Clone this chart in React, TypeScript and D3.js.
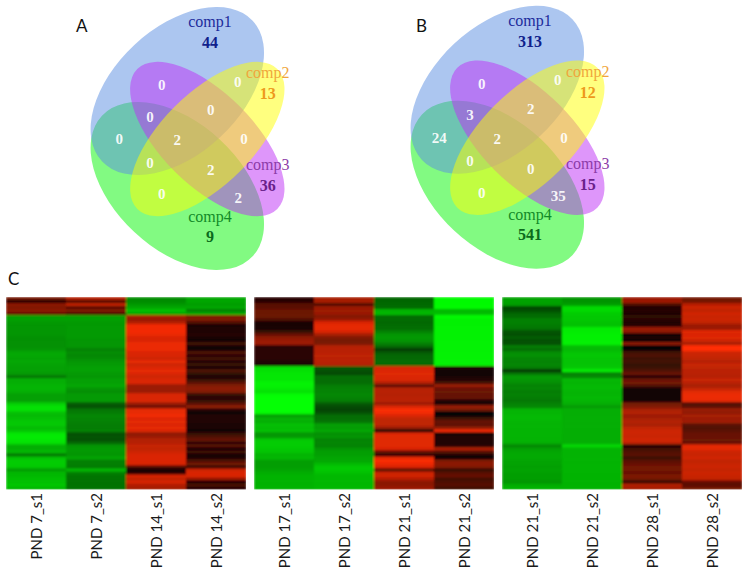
import React from 'react';
import * as d3 from 'd3';

// venn counts, in the order of the regions below
const vennRegions = ['c1c3', 'c1c2', 'c1c2c3', 'c1c3c4', 'c1c4', 'all', 'c2c3', 'c2c4', 'c2c3c4', 'c3c4yellow', 'c3c4'];
const countsA = [0, 0, 0, 0, 0, 2, 0, 0, 2, 0, 2];
const countsB = [0, 0, 2, 3, 24, 2, 0, 0, 0, 0, 35];
const soloA = [44, 13, 36, 9];
const soloB = [313, 12, 15, 541];
const compNames = ['comp1', 'comp2', 'comp3', 'comp4'];

const labels1 = ['PND 7_s1', 'PND 7_s2', 'PND 14_s1', 'PND 14_s2'];
const labels2 = ['PND 17_s1', 'PND 17_s2', 'PND 21_s1', 'PND 21_s2'];
const labels3 = ['PND 21_s1', 'PND 21_s2', 'PND 28_s1', 'PND 28_s2'];

// heatmap rows, green (negative) to red (positive)
const p1c1 = [45, 10, 55, 50, 55, 40, -62, -62, -60, -58, -58, -58, -58, -56, -56, -56, -56, -58, -65, -65, -63, -65, -63, -62, -62, -60, -45, -68, -68, -70, -70, -68, -62, -62, -62, -80, -88, -88, -75, -72, -75, -78, -78, -72, -78, -90, -92, -90, -88, -68, -68, -72, -45, -75, -80, -80, -78, -60, -72, -72, -75, -75, -78, -72];
const p1c2 = [70, 30, 75, 35, 50, 30, -62, -62, -60, -60, -60, -60, -60, -60, -58, -58, -58, -50, -55, -52, -55, -58, -60, -62, -62, -60, -58, -62, -62, -65, -58, -55, -60, -60, -60, -35, -30, -45, -48, -52, -50, -50, -48, -48, -50, -30, -32, -30, -40, -58, -60, -60, -58, -65, -50, -50, -48, -72, -50, -45, -45, -45, -45, -45];
const p1c3 = [-55, -55, -60, -65, -75, -65, 65, 60, 70, 95, 95, 95, 92, 85, 85, 92, 92, 92, 85, 85, 80, 90, 80, 85, 90, 85, 80, 85, 85, 60, 60, 60, 85, 85, 85, 60, 40, 90, 90, 95, 85, 90, 85, 90, 85, 55, 60, 70, 70, 78, 75, 80, 85, 85, 85, 85, 30, 5, 15, 85, 75, 85, 70, 65];
const p1c4 = [-65, -65, -62, -65, -50, -65, 50, 50, 30, 8, 12, 10, 15, 8, 5, 25, 5, 3, 30, 15, 25, 12, 22, 5, 30, 18, 8, 18, 35, 50, 55, 50, 18, 15, 18, 35, 55, 15, 5, 10, 12, 10, 8, 8, 5, 20, 30, 40, 15, 35, 8, 25, 5, 12, 30, 45, 20, 80, 85, 85, 60, 10, 30, 15];

const p2c1 = [15, 15, 35, 35, 42, 42, 42, 30, 7, 7, 7, 20, 40, 55, 60, 60, 15, 15, 15, 15, 15, 10, 8, -88, -88, -90, -90, -90, -95, -95, -92, -88, -98, -100, -100, -100, -100, -100, -98, -60, -70, -68, -75, -72, -75, -58, -60, -78, -80, -80, -78, -76, -70, -72, -62, -62, -62, -64, -68, -70, -70, -70, -70, -70];
const p2c2 = [65, 65, 30, 60, 62, 60, 50, 60, 85, 90, 90, 85, 65, 50, 45, 48, 70, 72, 72, 75, 72, 72, 70, -35, -30, -28, -42, -42, -42, -48, -50, -50, -52, -50, -48, -35, -28, -25, -30, -42, -42, -45, -62, -60, -65, -55, -58, -50, -52, -50, -58, -62, -62, -65, -65, -72, -78, -78, -75, -72, -72, -72, -72, -72];
const p2c3 = [-40, -40, -42, -42, -70, -72, -42, -42, -40, -42, -42, -50, -58, -60, -58, -50, -40, -22, -35, -40, -40, -42, -40, 85, 85, 88, 85, 85, 70, 35, 70, 72, 70, 72, 72, 60, 85, 98, 95, 85, 75, 75, 75, 60, 5, 88, 88, 88, 88, 88, 85, 40, 15, 90, 98, 92, 85, 30, 80, 82, 70, 55, 55, 60];
const p2c4 = [-98, -98, -98, -98, -72, -75, -98, -95, -95, -95, -95, -95, -95, -95, -95, -95, -95, -95, -95, -95, -95, -95, -95, 10, 5, 5, 8, 12, 25, 60, 40, 42, 38, 40, 12, 8, 60, 45, 1, 1, 25, 40, 35, 55, 95, 3, 10, 12, 10, 15, 70, 35, 10, 2, 50, 55, 50, 18, 35, 40, 25, 30, 35, 25];

const p3c1 = [-64, -64, -62, -28, -30, -40, -42, -50, -50, -48, -45, -32, -30, -36, -30, -30, -48, -42, -55, -56, -52, -50, -52, -48, -20, -45, -60, -58, -55, -50, -52, -48, -50, -48, -46, -50, -52, -70, -70, -72, -72, -70, -70, -70, -70, -70, -70, -70, -68, -52, -62, -65, -66, -66, -64, -64, -62, -64, -62, -62, -62, -58, -68, -70];
const p3c2 = [-58, -58, -62, -85, -85, -80, -78, -78, -76, -76, -92, -92, -94, -94, -94, -94, -74, -72, -76, -78, -76, -76, -76, -78, -92, -50, -52, -72, -70, -72, -72, -70, -70, -72, -70, -68, -60, -68, -68, -68, -68, -68, -68, -68, -68, -68, -68, -68, -68, -85, -70, -70, -70, -70, -70, -70, -70, -70, -70, -70, -70, -70, -70, -70];
const p3c3 = [60, 62, 30, 12, 15, 12, 18, 15, 12, 15, 60, 55, 5, 8, 5, 55, 2, 1, 25, 30, 22, 25, 20, 22, 30, 40, 10, 40, 45, 30, 5, 4, 3, 3, 5, 45, 50, 65, 70, 60, 65, 70, 65, 75, 80, 80, 78, 82, 75, 8, 25, 30, 35, 22, 35, 40, 45, 45, 40, 50, 45, 20, 70, 65];
const p3c4 = [45, 45, 72, 80, 75, 82, 78, 80, 75, 60, 60, 88, 85, 88, 80, 65, 100, 100, 80, 78, 75, 70, 78, 75, 72, 72, 70, 78, 72, 65, 75, 88, 92, 92, 90, 30, 35, 60, 55, 65, 60, 62, 35, 30, 35, 40, 40, 42, 38, 90, 88, 80, 78, 82, 75, 78, 80, 76, 80, 78, 76, 40, 35, 45];

const width = 747;
const height = 575;
const serif = '"Liberation Serif", serif';
const sans = 'Lato, sans-serif';

const color = d3.scaleLinear<string>().domain([-100, 0, 100]).range(['#00ff00', '#000000', '#ff2a00']);

// centre of each venn region, relative to the panel
const regionPos = [
  [101.7, 85], [177.7, 81.7], [150.7, 110], [90, 116.7], [59.3, 139.3], [117.3, 140], [184, 139.3], [90, 162.7], [150.7, 170], [101.7, 194.3], [178.3, 197.7],
];
const soloPos = [
  { x: 150, y: 27, vy: 48, fill: '#1c2c9c', num: '#101f8c' },
  { x: 207.7, y: 78, vy: 99, fill: '#f0a63c', num: '#ee9a1c' },
  { x: 207.7, y: 170, vy: 191, fill: '#8c3ca8', num: '#6a1f8a' },
  { x: 150, y: 221.7, vy: 241.7, fill: '#128a28', num: '#0b6a1c' },
];

function Venn({ x, y, counts, solo }: { x: number; y: number; counts: number[]; solo: number[] }) {
  const big = { rx: 103, ry: 63 };
  const thin = { rx: 99, ry: 46 };
  return (
    <g transform={`translate(${x},${y})`}>
      <ellipse cx={0} cy={0} {...big} fill="rgb(5,245,5)" fillOpacity={0.5} transform="translate(117.3,186) rotate(43)" />
      <ellipse cx={0} cy={0} {...big} fill="rgb(89,141,225)" fillOpacity={0.5} transform="translate(117.3,91) rotate(-43)" />
      <ellipse cx={0} cy={0} {...thin} fill="rgb(189,45,245)" fillOpacity={0.5} transform="translate(147.3,139) rotate(45)" />
      <ellipse cx={0} cy={0} {...thin} fill="rgb(255,255,0)" fillOpacity={0.5} transform="translate(147.3,139) rotate(-45)" />
      {vennRegions.map((r, i) => (
        <text key={r} x={regionPos[i][0]} y={regionPos[i][1]} dy="0.34em" textAnchor="middle" fill="#fff" fillOpacity={0.92} fontFamily={serif} fontWeight="bold" fontSize={15}>
          {counts[i]}
        </text>
      ))}
      {compNames.map((name, i) => (
        <g key={name} fontFamily={serif} textAnchor="middle" fontSize={16}>
          <text x={soloPos[i].x} y={soloPos[i].y} fill={soloPos[i].fill}>{name}</text>
          <text x={soloPos[i].x} y={soloPos[i].vy} fill={soloPos[i].num} fontWeight="bold">{solo[i]}</text>
        </g>
      ))}
    </g>
  );
}

function Heatmap({ x0, columns, labels }: { x0: number; columns: number[][]; labels: string[] }) {
  const x = d3.scaleBand<number>().domain(d3.range(columns.length)).range([x0, x0 + 240]);
  const y = d3.scaleBand<number>().domain(d3.range(columns[0].length)).range([297, 489.5]);
  return (
    <g>
      <clipPath id={`clip${x0}`}><rect x={x0} y={297} width={240} height={192.5} /></clipPath>
      <g clipPath={`url(#clip${x0})`}>
        <g filter="url(#soft)">
          {columns.map((col, c) =>
            col.map((v, r) => (
              <rect key={`${c}-${r}`} x={x(c)} y={y(r)} width={x.bandwidth() + 0.5} height={y.bandwidth() + 0.5} fill={color(v)} />
            ))
          )}
        </g>
      </g>
      {labels.map((l, c) => (
        <text
          key={l}
          transform={`translate(${x(c)! + x.bandwidth() / 2 + 6},493) rotate(-90)`}
          textAnchor="end"
          fontFamily={sans}
          fontSize={15}
          fill="#1a1a1a"
        >
          {l}
        </text>
      ))}
    </g>
  );
}

export default function App() {
  return (
    <svg width={width} height={height} style={{ position: 'absolute', left: 0, top: 0, background: '#fff' }}>
      <defs>
        <filter id="soft" x="-2%" y="-2%" width="104%" height="104%">
          <feGaussianBlur stdDeviation="1" />
        </filter>
      </defs>
      <Venn x={60} y={0} counts={countsA} solo={soloA} />
      <Venn x={380} y={-1.3} counts={countsB} solo={soloB} />
      <text x={76} y={32} fontFamily={sans} fontSize={17} fill="#111">A</text>
      <text x={416} y={32} fontFamily={sans} fontSize={17} fill="#111">B</text>
      <text x={8} y={285} fontFamily={sans} fontSize={17} fill="#111">C</text>
      <Heatmap x0={6} columns={[p1c1, p1c2, p1c3, p1c4]} labels={labels1} />
      <Heatmap x0={254} columns={[p2c1, p2c2, p2c3, p2c4]} labels={labels2} />
      <Heatmap x0={502} columns={[p3c1, p3c2, p3c3, p3c4]} labels={labels3} />
    </svg>
  );
}
